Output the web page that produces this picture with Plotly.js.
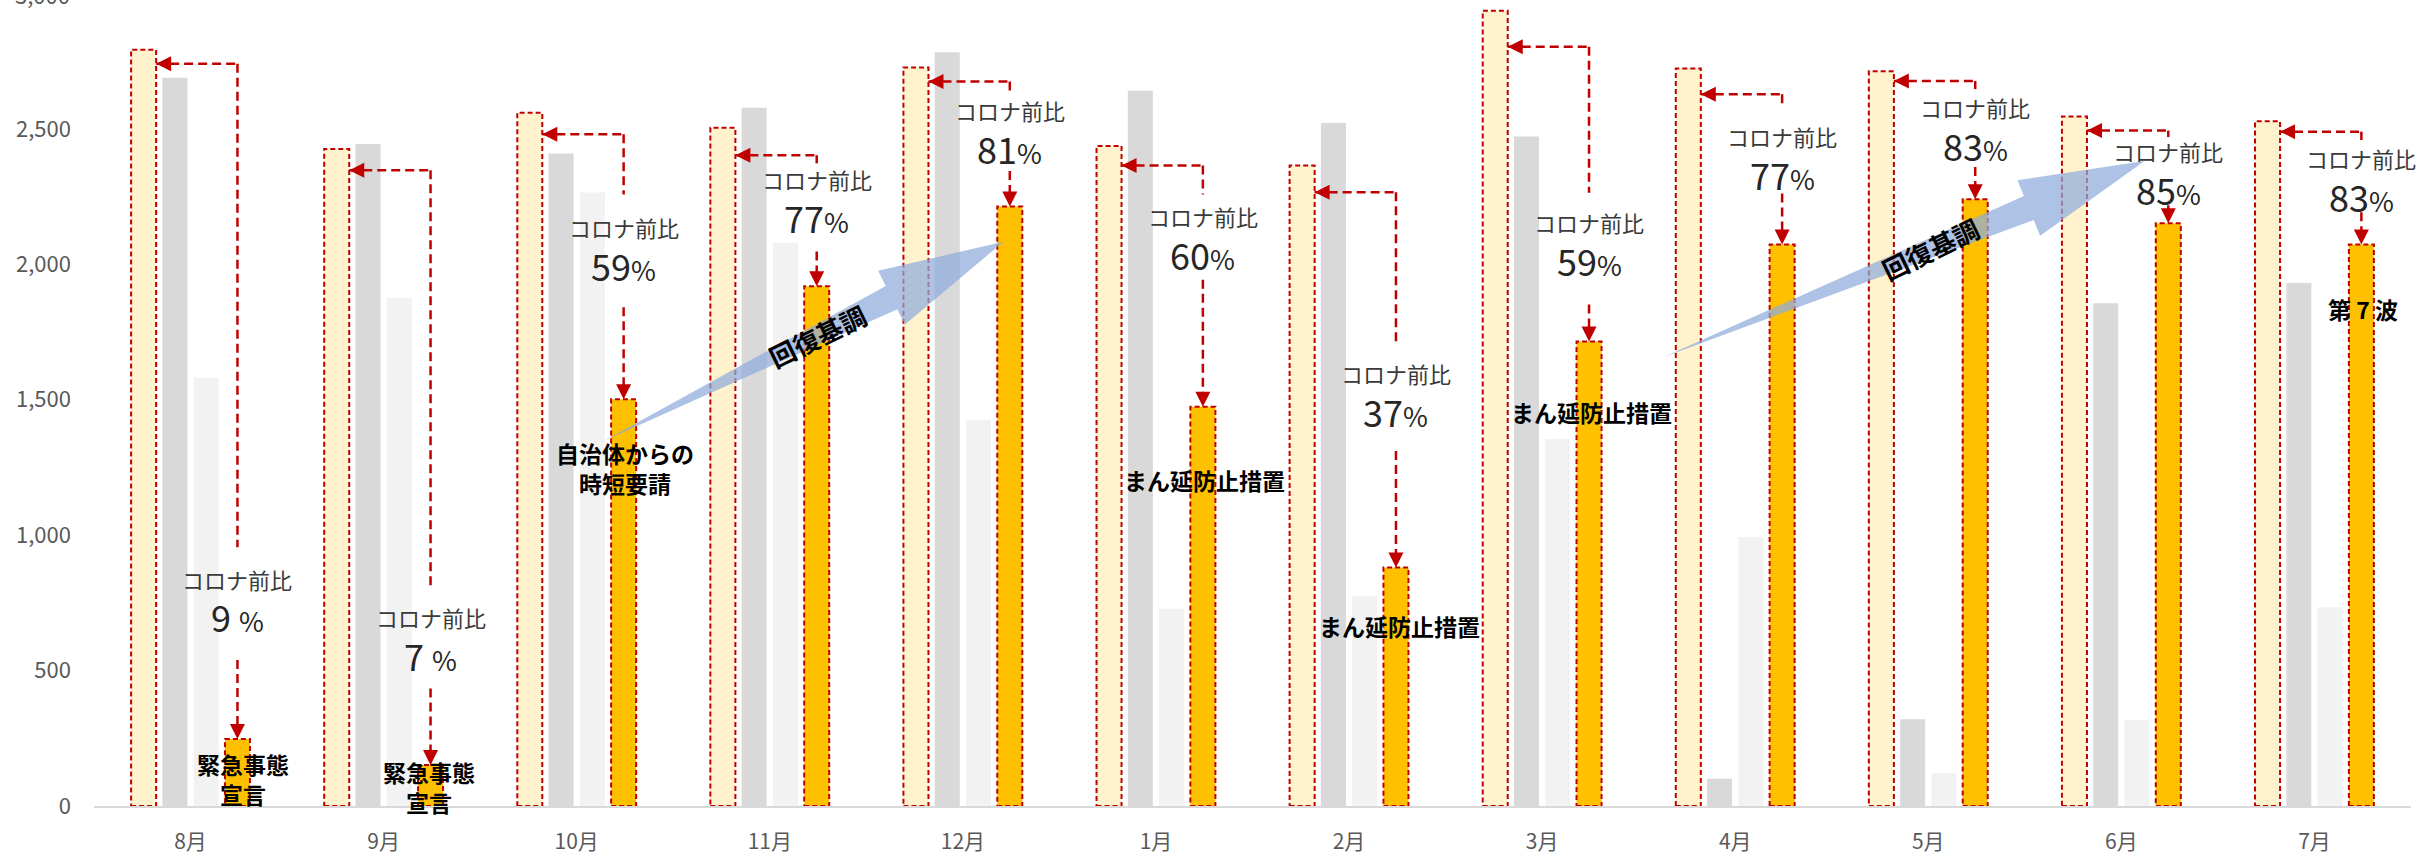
<!DOCTYPE html>
<html>
<head>
<meta charset="utf-8">
<script src="https://cdn.plot.ly/plotly-3.0.1.min.js"></script>
<style>html,body{margin:0;padding:0;background:#fff;}#chart{width:2428px;height:854px;}</style>
</head>
<body>
<div id="chart"></div>
<script>
// ---- data ----
const months = ['8月','9月','10月','11月','12月','1月','2月','3月','4月','5月','6月','7月'];
const preCovid = [2792, 2426, 2560, 2504, 2727, 2437, 2365, 2936, 2723, 2713, 2546, 2528];
const yearA    = [2689, 2444, 2409, 2578, 2783, 2641, 2522, 2472, 101, 320, 1856, 1931];
const yearB    = [1581, 1876, 2265, 2080, 1426, 728, 776, 1355, 993, 121, 318, 734];
const current  = [247, 151, 1502, 1919, 2214, 1474, 881, 1715, 2073, 2240, 2152, 2073];
const ratioNum = ['9 ', '7 ', '59', '77', '81', '60', '37', '59', '77', '83', '85', '83'];
const ratioCaption = 'コロナ前比';
const yTickVals = [0, 500, 1000, 1500, 2000, 2500];
const noteTexts  = ['緊急事態<br>宣言', '緊急事態<br>宣言', '自治体からの<br>時短要請', 'まん延防止措置', 'まん延防止措置', 'まん延防止措置', '第 7 波'];
const noteMonths = [0, 1, 2, 5, 6, 7, 11];
const trendText = '回復基調';

// ---- layout positions (not data) ----
const calloutTop   = [2741, 2347, 2480, 2403, 2675, 2365, 2266, 2803, 2628, 2677, 2494, 2490];
const calloutEnd   = [955, 810, 2258, 2373, 2630, 2258, 1715, 2264, 2590, 2647, 2470, 2459];
const captionY     = [835, 694, 2134, 2309, 2564, 2174, 1593, 2150, 2470, 2576, 2415, 2389];
const lowerStart   = [539, 434, 1842, 2047, 2345, 1943, 1311, 1852, 2262, 2359, 2218, 2192];
const captionGap = 140;
const noteY  = [100, 70, 1248, 1204, 665, 1455, 1836];
const noteDx = [0.27, 0.235, 0.25, 0.25, 0.26, 0.258, 0.25];
const trendArrows = [
  {from: [2.14, 1348], to: [4.21, 2083], text: [3.245, 1739]},
  {from: [7.63, 1658], to: [10.12, 2382], text: [9.009, 2060]}
];

const W = 2428, H = 854;
const M = {l: 94, r: 17, t: 0, b: 48};
const yTop = 2976;
const bargap = 0.352, bargroupgap = 0.2, nTr = 4;
const slot = (1 - bargap) / nTr;
const barW = slot * (1 - bargroupgap);
const off = k => -0.5 * (1 - bargap) + slot * (k + 0.5);

const RED = '#C00000';
const FONT = '"Noto Sans CJK JP", "Noto Sans", sans-serif';
const idx = months.map((m, i) => i);

function bar(y, color, name) {
  return {type: 'bar', x: idx, y: y, name: name, marker: {color: color, line: {width: 0}},
          hoverinfo: 'skip', showlegend: false};
}
const traces = [
  bar(preCovid, '#FFF2CC', 'コロナ前'),
  bar(yearA, '#D9D9D9', 'A'),
  bar(yearB, '#F2F2F2', 'B'),
  bar(current, '#FFC000', '今年度')
];

const shapes = [];
const annotations = [];

// dashed outlines on pre-covid and current bars
[[preCovid, 0], [current, 3]].forEach(([arr, k]) => {
  arr.forEach((v, i) => {
    shapes.push({type: 'rect', xref: 'x', yref: 'y', layer: 'above',
      x0: i + off(k) - barW / 2, x1: i + off(k) + barW / 2, y0: 0, y1: v,
      line: {color: RED, width: 2, dash: '5px,3px'}, fillcolor: 'rgba(0,0,0,0)'});
  });
});

// callout connectors
months.forEach((m, i) => {
  const xl = i + off(0) + barW / 2;
  const xc = i + off(3);
  const dl = {color: RED, width: 2.5, dash: '9px,5px'};
  shapes.push({type: 'line', xref: 'x', yref: 'y', layer: 'above', x0: xl, x1: xc, y0: calloutTop[i], y1: calloutTop[i], line: dl});
  shapes.push({type: 'line', xref: 'x', yref: 'y', layer: 'above', x0: xc, x1: xc, y0: calloutTop[i], y1: calloutEnd[i], line: dl});
  shapes.push({type: 'line', xref: 'x', yref: 'y', layer: 'above', x0: xc, x1: xc, y0: lowerStart[i], y1: current[i] + 40, line: dl});
  // arrowheads
  annotations.push({x: xl, y: calloutTop[i], xref: 'x', yref: 'y', text: '', showarrow: true,
    ax: 15, ay: 0, arrowhead: 2, arrowsize: 1.5, arrowwidth: 2, arrowcolor: RED, standoff: 0});
  annotations.push({x: xc, y: current[i], xref: 'x', yref: 'y', text: '', showarrow: true,
    ax: 0, ay: -15, arrowhead: 2, arrowsize: 1.5, arrowwidth: 2, arrowcolor: RED, standoff: 0});
  annotations.push({x: xc, y: captionY[i] + 5, xref: 'x', yref: 'y', text: ratioCaption, showarrow: false,
    font: {family: FONT, size: 22, color: '#3A3A3A'}, xanchor: 'center', yanchor: 'middle'});
  annotations.push({x: xc, y: captionY[i] + 5 - captionGap, xref: 'x', yref: 'y',
    text: '<span style="font-size:36px">' + ratioNum[i] + '</span><span style="font-size:27px">%</span>',
    showarrow: false, font: {family: FONT, size: 36, color: '#262626'}, xanchor: 'center', yanchor: 'middle'});
});

// event notes
noteTexts.forEach((t, j) => {
  annotations.push({x: noteMonths[j] + noteDx[j], y: noteY[j], xref: 'x', yref: 'y',
    text: '<b>' + t + '</b>', showarrow: false, align: 'center',
    font: {family: FONT, size: 23, color: '#000'}, xanchor: 'center', yanchor: 'middle'});
});

// trend arrows
const plotW = W - M.l - M.r, plotH = H - M.t - M.b;
const ux = plotW / 12, uy = plotH / yTop;
const toPx = (x, v) => [(x + 0.5) * ux, plotH - v * uy];
const toData = (px, py) => [px / ux - 0.5, (plotH - py) / uy];
trendArrows.forEach(a => {
  const T = toPx(a.from[0], a.from[1]);
  const Hd = toPx(a.to[0], a.to[1]);
  const dx = Hd[0] - T[0], dy = Hd[1] - T[1];
  const D = Math.hypot(dx, dy);
  const u = [dx / D, dy / D], n = [-u[1], u[0]];
  const Lh = 125, Wh = 30, Wb = 13;
  const B = [Hd[0] - Lh * u[0], Hd[1] - Lh * u[1]];
  const pts = [T,
    [B[0] + Wb * n[0], B[1] + Wb * n[1]],
    [B[0] + Wh * n[0], B[1] + Wh * n[1]],
    Hd,
    [B[0] - Wh * n[0], B[1] - Wh * n[1]],
    [B[0] - Wb * n[0], B[1] - Wb * n[1]]
  ].map(p => toData(p[0], p[1]));
  const path = 'M' + pts.map(p => p[0].toFixed(4) + ',' + p[1].toFixed(2)).join('L') + 'Z';
  shapes.push({type: 'path', xref: 'x', yref: 'y', layer: 'above', path: path,
    fillcolor: 'rgba(143,170,220,0.72)', line: {width: 0}});
  annotations.push({x: a.text[0], y: a.text[1], xref: 'x', yref: 'y', text: '<b>' + trendText + '</b>',
    showarrow: false, textangle: -26, font: {family: FONT, size: 26, color: '#000'}});
});

// partially visible top tick label (cut by the top edge, as in the reference)
annotations.push({x: 0, xref: 'paper', xanchor: 'right', xshift: -22, y: 3000 / yTop, yref: 'paper',
  yanchor: 'middle', text: (3000).toLocaleString('en-US'), showarrow: false,
  font: {family: FONT, size: 22, color: '#595959'}});

const layout = {
  width: W, height: H, margin: M,
  paper_bgcolor: '#fff', plot_bgcolor: '#fff',
  barmode: 'group', bargap: bargap, bargroupgap: bargroupgap,
  showlegend: false,
  font: {family: FONT},
  xaxis: {range: [-0.5, 11.5], tickmode: 'array', tickvals: idx, ticktext: months,
    showgrid: false, zeroline: false, showline: true, linecolor: '#D9D9D9', linewidth: 2,
    ticks: '', ticklabelstandoff: 16, tickfont: {family: FONT, size: 21, color: '#595959'}, fixedrange: true},
  yaxis: {range: [0, yTop], tickmode: 'array', tickvals: yTickVals,
    ticktext: yTickVals.map(v => v.toLocaleString('en-US')),
    showgrid: false, zeroline: false, showline: false, ticks: '', ticklabelstandoff: 22,
    tickfont: {family: FONT, size: 22, color: '#595959'}, fixedrange: true},
  shapes: shapes,
  annotations: annotations
};

Plotly.newPlot('chart', traces, layout, {displayModeBar: false, staticPlot: true});
</script>
</body>
</html>
